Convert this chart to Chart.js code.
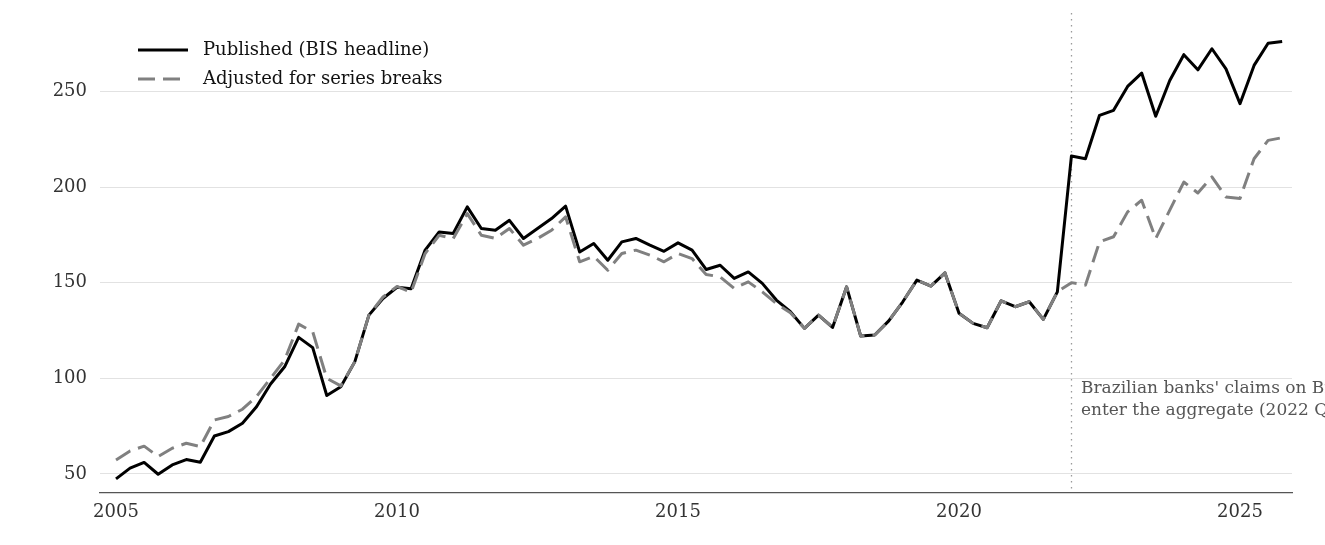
<!DOCTYPE html>
<html>
<head>
<meta charset="utf-8">
<script src="https://cdn.jsdelivr.net/npm/chart.js@4.4.1/dist/chart.umd.min.js"></script>
<style>
  html, body { margin: 0; padding: 0; background: #fff; }
  #wrap { width: 1325px; height: 545px; }
</style>
</head>
<body>
<div id="wrap"><canvas id="chart" width="1325" height="545"></canvas></div>
<script>
// quarterly series, 2005 Q1 .. 2025 Q4
const startYear = 2005;
const quarterCount = 84;
const yearTicks = [2005, 2010, 2015, 2020, 2025];
const valueTicks = [50, 100, 150, 200, 250];
const breakDate = 2022.0;
const breakNote = ["Brazilian banks' claims on Brazil", "enter the aggregate (2022 Q1)"];

const published = [
  47.4, 53.0, 56.0, 49.8, 54.7, 57.5, 56.1, 69.8, 72.1, 76.5, 85.1, 97.0,
  106.0, 121.4, 116.0, 91.0, 95.6, 108.7, 133.0, 141.7, 147.6, 146.8, 167.0, 176.5,
  175.7, 189.6, 178.3, 177.4, 182.6, 173.1, 178.3, 183.5, 190.0, 166.0, 170.5, 161.7,
  171.3, 173.1, 169.6, 166.4, 170.8, 167.0, 156.9, 159.1, 152.2, 155.6, 149.6, 140.9,
  134.8, 126.1, 133.0, 126.6, 147.8, 122.1, 122.6, 130.0, 140.0, 151.3, 148.2, 155.1,
  134.0, 128.7, 126.4, 140.5, 137.4, 140.0, 130.8, 145.2, 216.2, 214.8, 237.5, 240.1,
  252.6, 259.6, 237.0, 255.7, 269.2, 261.3, 272.3, 261.8, 243.6, 263.6, 275.2, 276.1
];
const adjusted = [
  57.3, 62.0, 64.5, 59.1, 63.4, 66.0, 64.3, 78.2, 80.0, 83.8, 90.4, 100.0,
  109.5, 128.3, 124.3, 100.0, 96.0, 108.7, 133.0, 142.5, 148.0, 145.0, 165.2, 174.8,
  173.1, 186.1, 174.8, 173.1, 178.3, 169.6, 173.1, 177.4, 184.4, 160.9, 163.8, 156.5,
  165.2, 167.0, 164.4, 160.9, 165.2, 162.6, 154.3, 153.0, 147.0, 150.4, 145.2, 139.1,
  134.2, 126.1, 133.0, 126.6, 147.8, 122.1, 122.6, 130.0, 140.0, 151.3, 148.2, 155.1,
  134.0, 128.7, 126.4, 140.5, 137.4, 140.0, 130.8, 145.2, 150.0, 148.7, 171.3, 174.0,
  187.0, 193.1, 173.1, 187.9, 202.6, 196.9, 205.3, 194.8, 194.0, 214.8, 224.4, 225.8
];

const quarters = [];
for (let i = 0; i < quarterCount; i++) quarters.push(startYear + i / 4);

const toPoints = (vals) => vals.map((v, i) => ({ x: quarters[i], y: v }));

const serif = "'DejaVu Serif', 'Liberation Serif', serif";

const overlay = {
  id: "overlay",
  beforeDatasetsDraw(chart) {
    const { ctx, chartArea, scales } = chart;
    const x = Math.round(scales.x.getPixelForValue(breakDate)) + 0.5;
    ctx.save();
    ctx.strokeStyle = "#9a9a9a";
    ctx.lineWidth = 1.3;
    ctx.setLineDash([1.5, 4.5]);
    ctx.beginPath();
    ctx.moveTo(x, chartArea.top);
    ctx.lineTo(x, chartArea.bottom);
    ctx.stroke();
    ctx.restore();
  },
  afterDraw(chart) {
    const { ctx, scales } = chart;
    const x = scales.x.getPixelForValue(breakDate);
    ctx.save();
    ctx.font = "17px " + serif;
    ctx.fillStyle = "#555";
    ctx.textBaseline = "middle";
    ctx.textAlign = "left";
    breakNote.forEach((line, k) => ctx.fillText(line, x + 9.5, 389 + k * 22));

    // legend
    ctx.font = "18px " + serif;
    ctx.fillStyle = "#111";
    chart.data.datasets.forEach((ds, k) => {
      const y = 50 + k * 29;
      ctx.strokeStyle = ds.borderColor;
      ctx.lineWidth = ds.borderWidth;
      ctx.setLineDash(ds.borderDash || []);
      ctx.beginPath();
      ctx.moveTo(138, y);
      ctx.lineTo(188, y);
      ctx.stroke();
      ctx.fillText(ds.label, 203, y);
    });
    ctx.restore();
  }
};

new Chart(document.getElementById("chart"), {
  type: "line",
  data: {
    datasets: [
      {
        label: "Published (BIS headline)",
        data: toPoints(published),
        borderColor: "#000000",
        borderWidth: 3,
        order: 1
      },
      {
        label: "Adjusted for series breaks",
        data: toPoints(adjusted),
        borderColor: "#808080",
        borderWidth: 3,
        borderDash: [17, 8],
        order: 0
      }
    ]
  },
  options: {
    responsive: false,
    animation: false,
    layout: { padding: { top: 13, right: 33, left: 0, bottom: 0 } },
    elements: {
      point: { radius: 0 },
      line: { tension: 0, borderJoinStyle: "round" }
    },
    plugins: { legend: { display: false }, tooltip: { enabled: false } },
    scales: {
      x: {
        type: "linear",
        min: 2004.715,
        max: 2025.925,
        afterBuildTicks: (s) => { s.ticks = yearTicks.map((v) => ({ value: v })); },
        afterFit: (s) => { s.height = 52; s.paddingLeft = 0; s.paddingRight = 0; },
        grid: { display: false, drawTicks: false },
        border: { display: true, color: "#555", width: 1.3 },
        ticks: {
          padding: 9,
          color: "#333",
          font: { family: serif, size: 18 },
          maxRotation: 0,
          callback: (v) => String(v)
        }
      },
      y: {
        min: 40,
        max: 291,
        afterBuildTicks: (s) => { s.ticks = valueTicks.map((v) => ({ value: v })); },
        afterFit: (s) => { s.width = 100; s.paddingTop = 0; s.paddingBottom = 0; },
        grid: { color: "#e2e2e2", lineWidth: 1, drawTicks: false },
        border: { display: false },
        ticks: {
          padding: 13,
          color: "#333",
          font: { family: serif, size: 18 },
          callback: (v) => String(v)
        }
      }
    }
  },
  plugins: [overlay]
});
</script>
</body>
</html>
